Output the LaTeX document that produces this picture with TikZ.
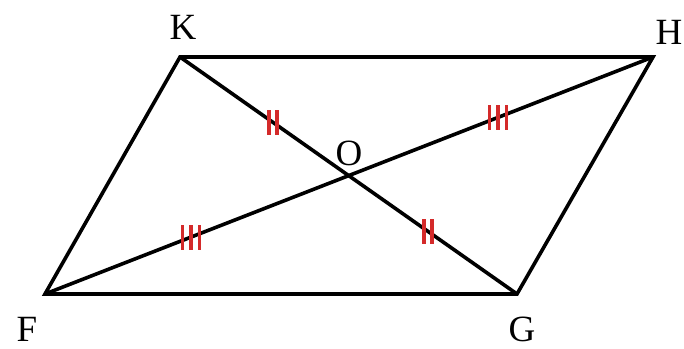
\documentclass[tikz,border=0pt]{standalone}
\usepackage{fontspec}
\setmainfont{Liberation Serif}
\usetikzlibrary{calc}
\definecolor{tickred}{HTML}{D42A2A}
\tikzset{
  edge/.style={line width=3.6pt, line join=miter, line cap=butt},
  lbl/.style={font=\fontsize{37}{42}\selectfont, inner sep=0pt},
  tick/.style={tickred, line width=3.6pt}
}
\begin{document}
\begin{tikzpicture}[x=1pt,y=1pt]
\useasboundingbox (0,0) rectangle (684,348);
\coordinate (K) at (180,291);
\coordinate (H) at (653,291);
\coordinate (G) at (517,54);
\coordinate (F) at (45,54);
\coordinate (O) at (349,172.5);
\draw[edge] (F) -- (K) -- (H) -- (G) -- cycle;
\draw[edge] (K) -- (G);
\draw[edge] (F) -- (H);
\node[lbl] (lK) at (183,321) {K};
\node[lbl] (lH) at (669,316) {H};
\node[lbl] (lO) at (349,195) {O};
\node[lbl] (lF) at (27,19) {F};
\node[lbl] (lG) at (522,19) {G};
\coordinate (t1) at ($(K)!0.55!(O)$);
\coordinate (t2) at ($(O)!0.47!(G)$);
\coordinate (t3) at ($(F)!0.48!(O)$);
\coordinate (t4) at ($(O)!0.49!(H)$);
% double ticks
\foreach \t in {t1,t2}{
  \draw[tick] ($(\t)+(-3.8,-12.5)$) -- ($(\t)+(-3.8,12.5)$);
  \draw[tick] ($(\t)+(3.8,-12.5)$) -- ($(\t)+(3.8,12.5)$);
}
% triple ticks
\foreach \t in {t3,t4}{
  \draw[tick] ($(\t)+(-8.5,-12.5)$) -- ($(\t)+(-8.5,12.5)$);
  \draw[tick] ($(\t)+(0,-12.5)$) -- ($(\t)+(0,12.5)$);
  \draw[tick] ($(\t)+(8.5,-12.5)$) -- ($(\t)+(8.5,12.5)$);
}
\end{tikzpicture}
\end{document}
